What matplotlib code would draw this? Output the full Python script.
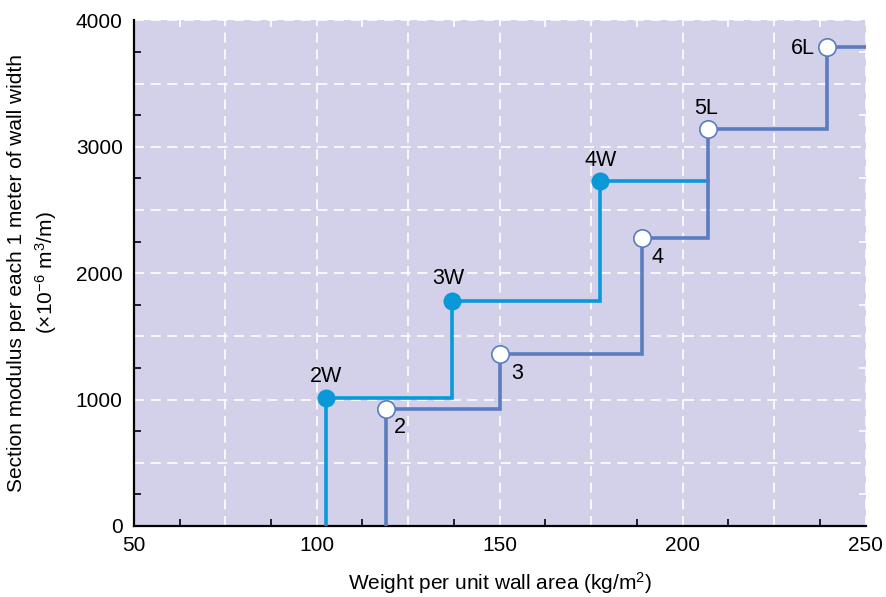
import numpy as np
import matplotlib
matplotlib.use("Agg")
import matplotlib.pyplot as plt
from matplotlib.ticker import FixedLocator, MultipleLocator

# wall type W (filled markers)
w_labels = ["2W", "3W", "4W"]
w_weight = [102.5, 137.0, 177.5]
w_modulus = [1010, 1780, 2725]
w_end = 207.0

# wall type L (open markers)
l_labels = ["2", "3", "4", "5L", "6L"]
l_weight = [119.0, 150.0, 189.0, 207.0, 239.5]
l_modulus = [925, 1360, 2277, 3140, 3790]
l_end = 250.0

# label offsets in pixels (dx, dy)
w_offsets = [(0, 22), (-4, 22), (0, 21)]
l_offsets = [(14, -18), (17, -19), (15, -19), (-2, 21), (-24, -2)]

BG = "#d3d1e9"
C_W = "#0b98d9"
C_L = "#5a7cc0"

plt.rcParams["font.family"] = ["Liberation Sans", "DejaVu Sans"]
plt.rcParams["mathtext.fontset"] = "custom"
plt.rcParams["mathtext.rm"] = "Liberation Sans"
plt.rcParams["mathtext.it"] = "Liberation Sans:italic"
plt.rcParams["mathtext.bf"] = "Liberation Sans:bold"


def step_path(xs, ys, x_end):
    # start from the x axis, step up at each point, run on to x_end
    px = [xs[0]] + list(xs) + [x_end]
    py = [0] + list(ys) + [ys[-1]]
    return px, py


def main():
    fig = plt.figure(figsize=(8.86, 5.97), dpi=100)
    ax = fig.add_axes([0.151, 0.119, 0.826, 0.847])
    ax.set_facecolor(BG)
    ax.set_xlim(50, 250)
    ax.set_ylim(0, 4000)

    # grid
    ax.set_xticks(np.arange(50, 251, 25))
    ax.set_xticklabels([str(v) if v % 50 == 0 else "" for v in range(50, 251, 25)])
    ax.set_yticks(np.arange(0, 4001, 500))
    ax.set_yticklabels([str(v) if v % 1000 == 0 else "" for v in range(0, 4001, 500)])
    ax.grid(True, color="white", linestyle=(0, (6, 4)), linewidth=1.2, zorder=1)
    ax.set_axisbelow(True)
    ax.tick_params(which="major", length=0, labelsize=15, pad=7)
    ax.tick_params(axis="y", which="major", pad=8)

    ax.xaxis.set_minor_locator(MultipleLocator(12.5))
    ax.yaxis.set_minor_locator(FixedLocator(np.arange(250, 4000, 500)))
    ax.tick_params(which="minor", direction="in", length=5, width=1.2, color="black")

    for side in ["top", "right"]:
        ax.spines[side].set_visible(False)
    for side in ["left", "bottom"]:
        ax.spines[side].set_linewidth(1.6)

    # white inner ticks on top and right
    top = ax.secondary_xaxis("top")
    top.set_xticks(np.arange(62.5, 250, 25))
    top.tick_params(direction="in", length=5, width=1.2, color="white", labeltop=False)
    top.spines["top"].set_visible(False)
    right = ax.secondary_yaxis("right")
    right.set_yticks(np.arange(250, 4000, 500))
    right.tick_params(direction="in", length=5, width=1.2, color="white", labelright=False)
    right.spines["right"].set_visible(False)

    # step lines
    lx, ly = step_path(l_weight, l_modulus, l_end)
    ax.step(lx, ly, where="post", color=C_L, linewidth=2.6, zorder=3,
            solid_joinstyle="miter")
    wx, wy = step_path(w_weight, w_modulus, w_end)
    ax.step(wx, wy, where="post", color=C_W, linewidth=2.6, zorder=2.9,
            solid_joinstyle="miter")

    # markers
    ax.plot(w_weight, w_modulus, "o", color=C_W, markersize=13, zorder=4,
            markeredgewidth=0)
    ax.plot(l_weight, l_modulus, "o", markerfacecolor="white",
            markeredgecolor=C_L, markeredgewidth=1.2, markersize=12.5, zorder=4)

    for lab, x, y, off in zip(w_labels, w_weight, w_modulus, w_offsets):
        ax.annotate(lab, (x, y), xytext=off, textcoords="offset pixels",
                    ha="center", va="center", fontsize=15.5, zorder=5)
    for lab, x, y, off in zip(l_labels, l_weight, l_modulus, l_offsets):
        ax.annotate(lab, (x, y), xytext=off, textcoords="offset pixels",
                    ha="center", va="center", fontsize=15.5, zorder=5)

    ax.set_xlabel(r"Weight per unit wall area (kg/m$^{2}$)", fontsize=15, labelpad=11)
    ax.set_ylabel("Section modulus per each 1 meter of wall width\n"
                  r"(×10$^{-6}$ m$^{3}$/m)", fontsize=15, labelpad=12,
                  linespacing=1.35)

    fig.savefig("out.png", dpi=100)


if __name__ == "__main__":
    main()
